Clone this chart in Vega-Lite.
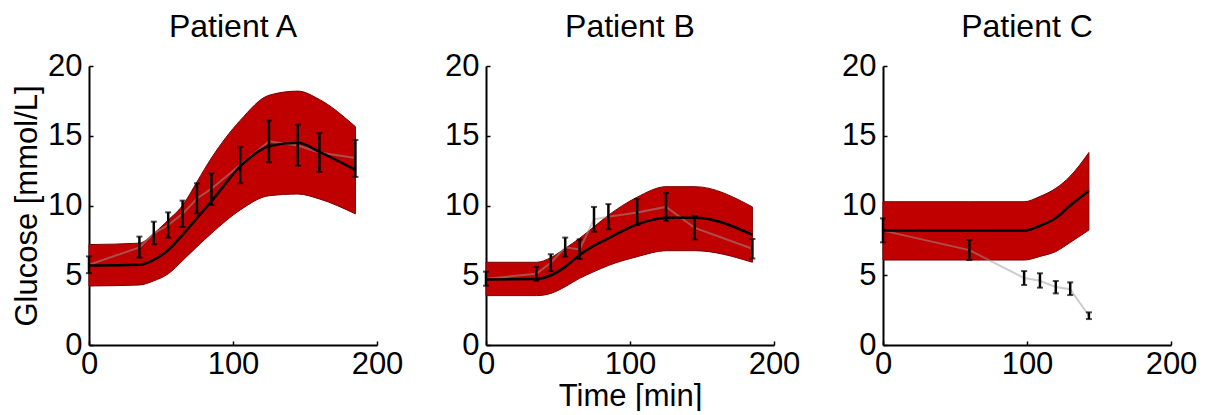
{
  "$schema": "https://vega.github.io/schema/vega-lite/v6.json",
  "padding": {"left": 11, "top": 11, "right": 0, "bottom": 0},
  "autosize": {"type": "pad"},
  "background": "white",
  "bounds": "flush",
  "spacing": 109,
  "config": {
    "view": {"stroke": null},
    "font": "Liberation Sans",
    "axis": {"domainColor": "black", "domainWidth": 2, "tickColor": "black", "tickWidth": 1.5, "tickSize": -4, "labelFontSize": 31, "labelColor": "black", "titleFontSize": 31, "titleColor": "black", "titleFontWeight": "normal", "grid": false, "labelFont": "Liberation Sans", "titleFont": "Liberation Sans", "labelFlush": false, "labelOverlap": false},
    "axisX": {"labelPadding": 8, "titlePadding": 2},
    "axisY": {"labelPadding": 11, "titlePadding": 4},
    "title": {"fontSize": 32, "fontWeight": "normal", "font": "Liberation Sans", "color": "black", "offset": 6}
  },
  "datasets": {
    "model": [
      {"p": "A", "t": 0, "lo": 4.23, "m": 5.7, "hi": 7.2},
      {"p": "A", "t": 35, "lo": 4.3, "m": 5.75, "hi": 7.3},
      {"p": "A", "t": 45, "lo": 4.6, "m": 6.1, "hi": 8.0},
      {"p": "A", "t": 55, "lo": 5.1, "m": 6.8, "hi": 8.96},
      {"p": "A", "t": 65, "lo": 6.05, "m": 7.9, "hi": 10.0},
      {"p": "A", "t": 75, "lo": 7.05, "m": 9.1, "hi": 11.7},
      {"p": "A", "t": 85, "lo": 8.0, "m": 10.3, "hi": 13.4},
      {"p": "A", "t": 105, "lo": 9.68, "m": 12.8, "hi": 16.1},
      {"p": "A", "t": 125, "lo": 10.7, "m": 14.25, "hi": 17.9},
      {"p": "A", "t": 145, "lo": 10.82, "m": 14.5, "hi": 18.2},
      {"p": "A", "t": 160, "lo": 10.47, "m": 13.85, "hi": 17.6},
      {"p": "A", "t": 185, "lo": 9.4, "m": 12.55, "hi": 15.65},
      {"p": "B", "t": 0, "lo": 3.54, "m": 4.7, "hi": 5.93},
      {"p": "B", "t": 35, "lo": 3.54, "m": 4.73, "hi": 5.93},
      {"p": "B", "t": 45, "lo": 3.7, "m": 5.0, "hi": 6.26},
      {"p": "B", "t": 55, "lo": 4.18, "m": 5.6, "hi": 6.93},
      {"p": "B", "t": 65, "lo": 4.78, "m": 6.45, "hi": 7.65},
      {"p": "B", "t": 75, "lo": 5.26, "m": 7.12, "hi": 8.48},
      {"p": "B", "t": 85, "lo": 5.7, "m": 7.65, "hi": 9.3},
      {"p": "B", "t": 105, "lo": 6.33, "m": 8.65, "hi": 10.6},
      {"p": "B", "t": 125, "lo": 6.76, "m": 9.13, "hi": 11.35},
      {"p": "B", "t": 145, "lo": 6.76, "m": 9.13, "hi": 11.35},
      {"p": "B", "t": 185, "lo": 5.93, "m": 7.9, "hi": 9.9},
      {"p": "C", "t": 0, "lo": 6.09, "m": 8.2, "hi": 10.27},
      {"p": "C", "t": 60, "lo": 6.09, "m": 8.2, "hi": 10.27},
      {"p": "C", "t": 98, "lo": 6.09, "m": 8.2, "hi": 10.27},
      {"p": "C", "t": 109, "lo": 6.35, "m": 8.55, "hi": 10.65},
      {"p": "C", "t": 120, "lo": 6.7, "m": 9.1, "hi": 11.23},
      {"p": "C", "t": 130, "lo": 7.35, "m": 10.0, "hi": 12.1},
      {"p": "C", "t": 143, "lo": 8.24, "m": 11.06, "hi": 13.8}
    ],
    "meas": [
      {"p": "A", "t": 0, "m": 5.75, "lo": 5.15, "hi": 6.35},
      {"p": "A", "t": 35, "m": 7.0, "lo": 6.26, "hi": 7.77},
      {"p": "A", "t": 45, "m": 8.0, "lo": 7.22, "hi": 8.84},
      {"p": "A", "t": 55, "m": 8.6, "lo": 7.69, "hi": 9.51},
      {"p": "A", "t": 65, "m": 9.4, "lo": 8.46, "hi": 10.35},
      {"p": "A", "t": 75, "m": 10.5, "lo": 9.44, "hi": 11.59},
      {"p": "A", "t": 85, "m": 11.2, "lo": 10.04, "hi": 12.3},
      {"p": "A", "t": 105, "m": 12.9, "lo": 11.6, "hi": 14.2},
      {"p": "A", "t": 125, "m": 14.6, "lo": 13.1, "hi": 16.1},
      {"p": "A", "t": 145, "m": 14.3, "lo": 12.85, "hi": 15.8},
      {"p": "A", "t": 160, "m": 13.8, "lo": 12.4, "hi": 15.2},
      {"p": "A", "t": 185, "m": 13.4, "lo": 12.05, "hi": 14.7},
      {"p": "B", "t": 0, "m": 4.75, "lo": 4.25, "hi": 5.26},
      {"p": "B", "t": 35, "m": 5.1, "lo": 4.6, "hi": 5.6},
      {"p": "B", "t": 45, "m": 5.9, "lo": 5.3, "hi": 6.5},
      {"p": "B", "t": 55, "m": 7.0, "lo": 6.33, "hi": 7.7},
      {"p": "B", "t": 65, "m": 6.85, "lo": 6.16, "hi": 7.57},
      {"p": "B", "t": 75, "m": 9.0, "lo": 8.12, "hi": 9.9},
      {"p": "B", "t": 85, "m": 9.2, "lo": 8.3, "hi": 10.1},
      {"p": "B", "t": 105, "m": 9.5, "lo": 8.6, "hi": 10.47},
      {"p": "B", "t": 125, "m": 9.9, "lo": 8.9, "hi": 10.9},
      {"p": "B", "t": 145, "m": 8.4, "lo": 7.57, "hi": 9.25},
      {"p": "B", "t": 185, "m": 6.9, "lo": 6.2, "hi": 7.6},
      {"p": "C", "t": 0, "m": 8.2, "lo": 7.36, "hi": 9.08},
      {"p": "C", "t": 60, "m": 6.8, "lo": 6.09, "hi": 7.53},
      {"p": "C", "t": 98, "m": 4.8, "lo": 4.3, "hi": 5.3},
      {"p": "C", "t": 109, "m": 4.6, "lo": 4.11, "hi": 5.14},
      {"p": "C", "t": 120, "m": 4.15, "lo": 3.7, "hi": 4.59},
      {"p": "C", "t": 130, "m": 4.0, "lo": 3.58, "hi": 4.49},
      {"p": "C", "t": 143, "m": 2.1, "lo": 1.86, "hi": 2.34}
    ]
  },
  "hconcat": [
    {
      "title": "Patient A",
      "width": 288, "height": 279,
      "encoding": {
        "x": {"field": "t", "type": "quantitative", "scale": {"domain": [0, 200], "nice": false}, "axis": {"values": [0, 100, 200], "title": null}},
        "y": {"type": "quantitative", "scale": {"domain": [0, 20], "nice": false}, "axis": {"values": [0, 5, 10, 15, 20], "title": "Glucose [mmol/L]"}}
      },
      "layer": [
        {"data": {"name": "model"}, "transform": [{"filter": "datum.p === 'A'"}], "mark": {"type": "area", "color": "#c00000", "stroke": "#7a0000", "strokeWidth": 1, "interpolate": "monotone"}, "encoding": {"y": {"field": "hi", "type": "quantitative"}, "y2": {"field": "lo"}}},
        {"data": {"name": "meas"}, "transform": [{"filter": "datum.p === 'A'"}], "mark": {"type": "line", "color": "#999999", "opacity": 0.5, "strokeWidth": 2}, "encoding": {"y": {"field": "m", "type": "quantitative"}}},
        {"data": {"name": "model"}, "transform": [{"filter": "datum.p === 'A'"}], "mark": {"type": "line", "color": "black", "strokeWidth": 2.5, "interpolate": "monotone"}, "encoding": {"y": {"field": "m", "type": "quantitative"}}},
        {"data": {"name": "meas"}, "transform": [{"filter": "datum.p === 'A'"}], "mark": {"type": "rule", "color": "black", "strokeWidth": 2.5}, "encoding": {"y": {"field": "lo", "type": "quantitative"}, "y2": {"field": "hi"}}},
        {"data": {"name": "meas"}, "transform": [{"filter": "datum.p === 'A'"}], "mark": {"type": "tick", "color": "black", "orient": "horizontal", "size": 6, "thickness": 2}, "encoding": {"y": {"field": "lo", "type": "quantitative"}}},
        {"data": {"name": "meas"}, "transform": [{"filter": "datum.p === 'A'"}], "mark": {"type": "tick", "color": "black", "orient": "horizontal", "size": 6, "thickness": 2}, "encoding": {"y": {"field": "hi", "type": "quantitative"}}}
      ]
    },
    {
      "title": "Patient B",
      "width": 288, "height": 279,
      "encoding": {
        "x": {"field": "t", "type": "quantitative", "scale": {"domain": [0, 200], "nice": false}, "axis": {"values": [0, 100, 200], "title": "Time [min]"}},
        "y": {"type": "quantitative", "scale": {"domain": [0, 20], "nice": false}, "axis": {"values": [0, 5, 10, 15, 20], "title": null}}
      },
      "layer": [
        {"data": {"name": "model"}, "transform": [{"filter": "datum.p === 'B'"}], "mark": {"type": "area", "color": "#c00000", "stroke": "#7a0000", "strokeWidth": 1, "interpolate": "monotone"}, "encoding": {"y": {"field": "hi", "type": "quantitative"}, "y2": {"field": "lo"}}},
        {"data": {"name": "meas"}, "transform": [{"filter": "datum.p === 'B'"}], "mark": {"type": "line", "color": "#999999", "opacity": 0.5, "strokeWidth": 2}, "encoding": {"y": {"field": "m", "type": "quantitative"}}},
        {"data": {"name": "model"}, "transform": [{"filter": "datum.p === 'B'"}], "mark": {"type": "line", "color": "black", "strokeWidth": 2.5, "interpolate": "monotone"}, "encoding": {"y": {"field": "m", "type": "quantitative"}}},
        {"data": {"name": "meas"}, "transform": [{"filter": "datum.p === 'B'"}], "mark": {"type": "rule", "color": "black", "strokeWidth": 2.5}, "encoding": {"y": {"field": "lo", "type": "quantitative"}, "y2": {"field": "hi"}}},
        {"data": {"name": "meas"}, "transform": [{"filter": "datum.p === 'B'"}], "mark": {"type": "tick", "color": "black", "orient": "horizontal", "size": 6, "thickness": 2}, "encoding": {"y": {"field": "lo", "type": "quantitative"}}},
        {"data": {"name": "meas"}, "transform": [{"filter": "datum.p === 'B'"}], "mark": {"type": "tick", "color": "black", "orient": "horizontal", "size": 6, "thickness": 2}, "encoding": {"y": {"field": "hi", "type": "quantitative"}}}
      ]
    },
    {
      "title": "Patient C",
      "width": 288, "height": 279,
      "encoding": {
        "x": {"field": "t", "type": "quantitative", "scale": {"domain": [0, 200], "nice": false}, "axis": {"values": [0, 100, 200], "title": null}},
        "y": {"type": "quantitative", "scale": {"domain": [0, 20], "nice": false}, "axis": {"values": [0, 5, 10, 15, 20], "title": null}}
      },
      "layer": [
        {"data": {"name": "model"}, "transform": [{"filter": "datum.p === 'C'"}], "mark": {"type": "area", "color": "#c00000", "stroke": "#7a0000", "strokeWidth": 1, "interpolate": "monotone"}, "encoding": {"y": {"field": "hi", "type": "quantitative"}, "y2": {"field": "lo"}}},
        {"data": {"name": "meas"}, "transform": [{"filter": "datum.p === 'C'"}], "mark": {"type": "line", "color": "#999999", "opacity": 0.5, "strokeWidth": 2}, "encoding": {"y": {"field": "m", "type": "quantitative"}}},
        {"data": {"name": "model"}, "transform": [{"filter": "datum.p === 'C'"}], "mark": {"type": "line", "color": "black", "strokeWidth": 2.5, "interpolate": "monotone"}, "encoding": {"y": {"field": "m", "type": "quantitative"}}},
        {"data": {"name": "meas"}, "transform": [{"filter": "datum.p === 'C'"}], "mark": {"type": "rule", "color": "black", "strokeWidth": 2.5}, "encoding": {"y": {"field": "lo", "type": "quantitative"}, "y2": {"field": "hi"}}},
        {"data": {"name": "meas"}, "transform": [{"filter": "datum.p === 'C'"}], "mark": {"type": "tick", "color": "black", "orient": "horizontal", "size": 6, "thickness": 2}, "encoding": {"y": {"field": "lo", "type": "quantitative"}}},
        {"data": {"name": "meas"}, "transform": [{"filter": "datum.p === 'C'"}], "mark": {"type": "tick", "color": "black", "orient": "horizontal", "size": 6, "thickness": 2}, "encoding": {"y": {"field": "hi", "type": "quantitative"}}}
      ]
    }
  ]
}
